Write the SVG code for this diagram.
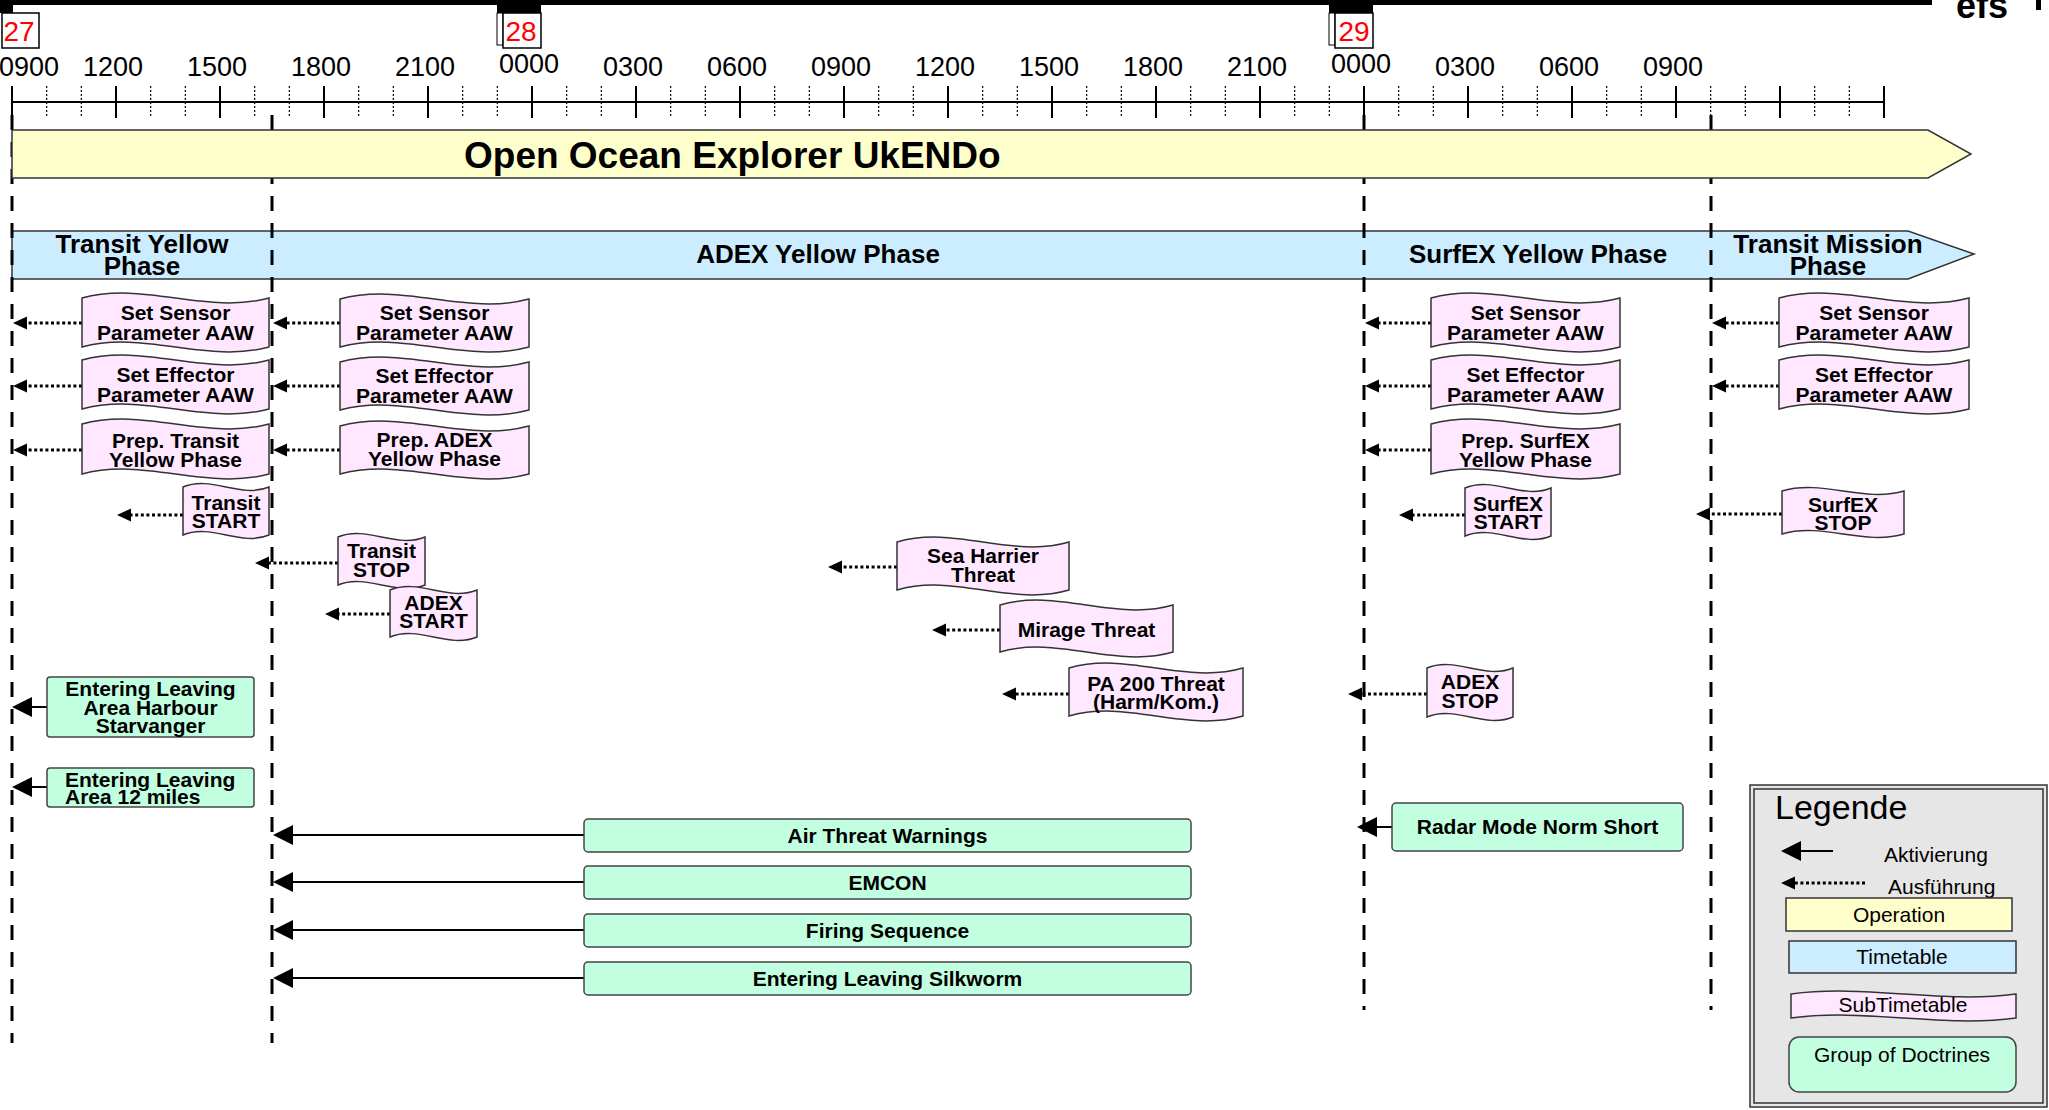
<svg xmlns="http://www.w3.org/2000/svg" width="2049" height="1110" viewBox="0 0 2049 1110">
<style>
text{font-family:"Liberation Sans",Arial,sans-serif;fill:#000}
.ax{font-size:27px;text-anchor:middle}
.day{font-size:28px;fill:#FF0000;text-anchor:middle}
.tt{font-size:26px;font-weight:bold;text-anchor:middle}
.t{font-size:21px;font-weight:bold;text-anchor:middle}
.lg{font-size:21px}
.tape{fill:#FFE8FF;stroke:#333;stroke-width:1.5}
.doc{fill:#C2FFE0;stroke:#444;stroke-width:1.5}
.dash{stroke:#000;stroke-width:3;stroke-dasharray:15 12;fill:none}
.dot{stroke:#000;stroke-width:3;stroke-dasharray:3 2.6;fill:none}
.sol{stroke:#000;stroke-width:2;fill:none}
</style>
<defs>
<marker id="hd" markerUnits="userSpaceOnUse" orient="auto" markerWidth="20" markerHeight="20" refX="0" refY="0" overflow="visible"><path d="M0,-6.5 L14,0 L0,6.5 Z" fill="#000"/></marker>
<marker id="hs" markerUnits="userSpaceOnUse" orient="auto" markerWidth="24" markerHeight="24" refX="0" refY="0" overflow="visible"><path d="M0,-10 L20,0 L0,10 Z" fill="#000"/></marker>
</defs>
<rect width="2049" height="1110" fill="#fff"/>

<g id="header">
<rect x="13" y="0" width="1919" height="5" fill="#000"/>
<rect x="0" y="0" width="13" height="13" fill="#000"/>
<rect x="2" y="13" width="37" height="35" fill="#fff" stroke="#000" stroke-width="1.5"/>
<text class="day" x="19" y="41">27</text>
<rect x="497" y="0" width="44" height="13" fill="#000"/>
<rect x="497" y="13" width="6" height="32" fill="#fff" stroke="#000" stroke-width="1"/>
<rect x="503" y="13" width="38" height="35" fill="#fff" stroke="#000" stroke-width="1.5"/>
<text class="day" x="521" y="41">28</text>
<rect x="1329" y="0" width="44" height="13" fill="#000"/>
<rect x="1329" y="13" width="6" height="32" fill="#fff" stroke="#000" stroke-width="1"/>
<rect x="1335" y="13" width="38" height="35" fill="#fff" stroke="#000" stroke-width="1.5"/>
<text class="day" x="1354" y="41">29</text>
<text x="1956" y="18" style="font-size:36px;font-weight:bold">efs</text>
<rect x="2036" y="0" width="5" height="10" fill="#000"/>
</g>

<g id="axis">
<line x1="12" y1="102" x2="1884" y2="102" stroke="#000" stroke-width="2"/>
<path d="M12,86V118M116,86V118M220,86V118M324,86V118M428,86V118M532,86V118M636,86V118M740,86V118M844,86V118M948,86V118M1052,86V118M1156,86V118M1260,86V118M1364,86V118M1468,86V118M1572,86V118M1676,86V118M1780,86V118M1884,86V118" stroke="#000" stroke-width="2"/>
<path d="M46.67,86V116M81.33,86V116M150.67,86V116M185.33,86V116M254.67,86V116M289.33,86V116M358.67,86V116M393.33,86V116M462.67,86V116M497.33,86V116M566.67,86V116M601.33,86V116M670.67,86V116M705.33,86V116M774.67,86V116M809.33,86V116M878.67,86V116M913.33,86V116M982.67,86V116M1017.33,86V116M1086.67,86V116M1121.33,86V116M1190.67,86V116M1225.33,86V116M1294.67,86V116M1329.33,86V116M1398.67,86V116M1433.33,86V116M1502.67,86V116M1537.33,86V116M1606.67,86V116M1641.33,86V116M1710.67,86V116M1745.33,86V116M1814.67,86V116M1849.33,86V116" stroke="#000" stroke-width="1.2" stroke-dasharray="2 2"/>
<text class="ax" x="59" y="76" style="text-anchor:end">0900</text>
<text class="ax" x="113" y="76">1200</text>
<text class="ax" x="217" y="76">1500</text>
<text class="ax" x="321" y="76">1800</text>
<text class="ax" x="425" y="76">2100</text>
<text class="ax" x="529" y="73">0000</text>
<text class="ax" x="633" y="76">0300</text>
<text class="ax" x="737" y="76">0600</text>
<text class="ax" x="841" y="76">0900</text>
<text class="ax" x="945" y="76">1200</text>
<text class="ax" x="1049" y="76">1500</text>
<text class="ax" x="1153" y="76">1800</text>
<text class="ax" x="1257" y="76">2100</text>
<text class="ax" x="1361" y="73">0000</text>
<text class="ax" x="1465" y="76">0300</text>
<text class="ax" x="1569" y="76">0600</text>
<text class="ax" x="1673" y="76">0900</text>
</g>

<g id="timetable">
<path d="M12,231 H1908 L1974,254 L1908,279 H12 Z" fill="#CCECFF" stroke="#333" stroke-width="1.5"/>
<text class="tt" x="142" y="253">Transit Yellow<tspan x="142" dy="22">Phase</tspan></text>
<text class="tt" x="818" y="263">ADEX Yellow Phase</text>
<text class="tt" x="1538" y="263">SurfEX Yellow Phase</text>
<text class="tt" x="1828" y="253">Transit Mission<tspan x="1828" dy="22">Phase</tspan></text>
</g>

<g id="phase-lines">
<line class="dash" x1="12" y1="115" x2="12" y2="1043"/>
<line class="dash" x1="272" y1="115" x2="272" y2="1043"/>
<line class="dash" x1="1364" y1="115" x2="1364" y2="1010"/>
<line class="dash" x1="1711" y1="115" x2="1711" y2="1010"/>
</g>

<g id="operation">
<path d="M12,130 H1928 L1971,154 L1928,178 H12 Z" fill="#FFFFCC" stroke="#333" stroke-width="1.5"/>
<text x="464" y="168" style="font-size:37px;font-weight:bold">Open Ocean Explorer UkENDo</text>
</g>

<g id="connectors">
<line class="dot" x1="82" y1="323" x2="27" y2="323" marker-end="url(#hd)"/>
<line class="dot" x1="82" y1="386" x2="27" y2="386" marker-end="url(#hd)"/>
<line class="dot" x1="82" y1="450" x2="27" y2="450" marker-end="url(#hd)"/>
<line class="dot" x1="183" y1="515" x2="131" y2="515" marker-end="url(#hd)"/>
<line class="dot" x1="340" y1="323" x2="287" y2="323" marker-end="url(#hd)"/>
<line class="dot" x1="340" y1="386" x2="287" y2="386" marker-end="url(#hd)"/>
<line class="dot" x1="340" y1="450" x2="287" y2="450" marker-end="url(#hd)"/>
<line class="dot" x1="338" y1="563" x2="269" y2="563" marker-end="url(#hd)"/>
<line class="dot" x1="390" y1="614" x2="339" y2="614" marker-end="url(#hd)"/>
<line class="dot" x1="897" y1="567" x2="842" y2="567" marker-end="url(#hd)"/>
<line class="dot" x1="1000" y1="630" x2="946" y2="630" marker-end="url(#hd)"/>
<line class="dot" x1="1069" y1="694" x2="1016" y2="694" marker-end="url(#hd)"/>
<line class="dot" x1="1427" y1="694" x2="1362" y2="694" marker-end="url(#hd)"/>
<line class="dot" x1="1431" y1="323" x2="1379" y2="323" marker-end="url(#hd)"/>
<line class="dot" x1="1431" y1="386" x2="1379" y2="386" marker-end="url(#hd)"/>
<line class="dot" x1="1431" y1="450" x2="1379" y2="450" marker-end="url(#hd)"/>
<line class="dot" x1="1465" y1="515" x2="1413" y2="515" marker-end="url(#hd)"/>
<line class="dot" x1="1779" y1="323" x2="1726" y2="323" marker-end="url(#hd)"/>
<line class="dot" x1="1779" y1="386" x2="1726" y2="386" marker-end="url(#hd)"/>
<line class="dot" x1="1782" y1="514" x2="1710" y2="514" marker-end="url(#hd)"/>
<line class="sol" x1="47" y1="707" x2="32" y2="707" marker-end="url(#hs)"/>
<line class="sol" x1="47" y1="787" x2="32" y2="787" marker-end="url(#hs)"/>
<line class="sol" x1="584" y1="835" x2="293" y2="835" marker-end="url(#hs)"/>
<line class="sol" x1="584" y1="882" x2="293" y2="882" marker-end="url(#hs)"/>
<line class="sol" x1="584" y1="930" x2="293" y2="930" marker-end="url(#hs)"/>
<line class="sol" x1="584" y1="978" x2="293" y2="978" marker-end="url(#hs)"/>
<line class="sol" x1="1392" y1="827" x2="1377" y2="827" marker-end="url(#hs)"/>
</g>

<g id="n-sensor-transit"><path class="tape" d="M82,298 C144.3,281 206.7,315 269,298 V347 C206.7,364 144.3,330 82,347 Z"/><text class="t" x="175.5" y="319.5">Set Sensor<tspan x="175.5" dy="20">Parameter AAW</tspan></text></g>
<g id="n-effector-transit"><path class="tape" d="M82,360 C144.3,343 206.7,377 269,360 V409 C206.7,426 144.3,392 82,409 Z"/><text class="t" x="175.5" y="382">Set Effector<tspan x="175.5" dy="20">Parameter AAW</tspan></text></g>
<g id="n-prep-transit"><path class="tape" d="M82,424 C144.3,407 206.7,441 269,424 V474 C206.7,491 144.3,457 82,474 Z"/><text class="t" x="175.5" y="447.5">Prep. Transit<tspan x="175.5" dy="19.5">Yellow Phase</tspan></text></g>
<g id="n-transit-start"><path class="tape" d="M183,487 C211.7,475 240.3,499 269,487 V535 C240.3,547 211.7,523 183,535 Z"/><text class="t" x="226" y="510">Transit<tspan x="226" dy="18">START</tspan></text></g>

<g id="n-sensor-adex"><path class="tape" d="M340,299 C403,282 466,316 529,299 V347 C466,364 403,330 340,347 Z"/><text class="t" x="434.5" y="320">Set Sensor<tspan x="434.5" dy="19.5">Parameter AAW</tspan></text></g>
<g id="n-effector-adex"><path class="tape" d="M340,362 C403,345 466,379 529,362 V410 C466,427 403,393 340,410 Z"/><text class="t" x="434.5" y="382.5">Set Effector<tspan x="434.5" dy="20">Parameter AAW</tspan></text></g>
<g id="n-prep-adex"><path class="tape" d="M340,426 C403,409 466,443 529,426 V474 C466,491 403,457 340,474 Z"/><text class="t" x="434.5" y="446.5">Prep. ADEX<tspan x="434.5" dy="19.5">Yellow Phase</tspan></text></g>
<g id="n-transit-stop"><path class="tape" d="M338,537 C367,525 396,549 425,537 V585 C396,597 367,573 338,585 Z"/><text class="t" x="381.5" y="558">Transit<tspan x="381.5" dy="19">STOP</tspan></text></g>
<g id="n-adex-start"><path class="tape" d="M390,590 C419,578 448,602 477,590 V637 C448,649 419,625 390,637 Z"/><text class="t" x="433.5" y="610">ADEX<tspan x="433.5" dy="18">START</tspan></text></g>

<g id="n-sea-harrier"><path class="tape" d="M897,542 C954.3,525 1011.7,559 1069,542 V590 C1011.7,607 954.3,573 897,590 Z"/><text class="t" x="983" y="563">Sea Harrier<tspan x="983" dy="19">Threat</tspan></text></g>
<g id="n-mirage"><path class="tape" d="M1000,605 C1057.7,588 1115.3,622 1173,605 V652 C1115.3,669 1057.7,635 1000,652 Z"/><text class="t" x="1086.5" y="637">Mirage Threat</text></g>
<g id="n-pa200"><path class="tape" d="M1069,668 C1127,651 1185,685 1243,668 V716 C1185,733 1127,699 1069,716 Z"/><text class="t" x="1156" y="691">PA 200 Threat<tspan x="1156" dy="18">(Harm/Kom.)</tspan></text></g>
<g id="n-adex-stop"><path class="tape" d="M1427,668 C1455.7,656 1484.3,680 1513,668 V717 C1484.3,729 1455.7,705 1427,717 Z"/><text class="t" x="1470" y="689">ADEX<tspan x="1470" dy="19">STOP</tspan></text></g>

<g id="n-sensor-surfex"><path class="tape" d="M1431,298 C1494,281 1557,315 1620,298 V347 C1557,364 1494,330 1431,347 Z"/><text class="t" x="1525.5" y="319.5">Set Sensor<tspan x="1525.5" dy="20">Parameter AAW</tspan></text></g>
<g id="n-effector-surfex"><path class="tape" d="M1431,360 C1494,343 1557,377 1620,360 V409 C1557,426 1494,392 1431,409 Z"/><text class="t" x="1525.5" y="382">Set Effector<tspan x="1525.5" dy="20">Parameter AAW</tspan></text></g>
<g id="n-prep-surfex"><path class="tape" d="M1431,424 C1494,407 1557,441 1620,424 V474 C1557,491 1494,457 1431,474 Z"/><text class="t" x="1525.5" y="447.5">Prep. SurfEX<tspan x="1525.5" dy="19.5">Yellow Phase</tspan></text></g>
<g id="n-surfex-start"><path class="tape" d="M1465,488 C1493.7,476 1522.3,500 1551,488 V536 C1522.3,548 1493.7,524 1465,536 Z"/><text class="t" x="1508" y="511">SurfEX<tspan x="1508" dy="18">START</tspan></text></g>

<g id="n-sensor-mission"><path class="tape" d="M1779,298 C1842.3,281 1905.7,315 1969,298 V347 C1905.7,364 1842.3,330 1779,347 Z"/><text class="t" x="1874" y="319.5">Set Sensor<tspan x="1874" dy="20">Parameter AAW</tspan></text></g>
<g id="n-effector-mission"><path class="tape" d="M1779,360 C1842.3,343 1905.7,377 1969,360 V409 C1905.7,426 1842.3,392 1779,409 Z"/><text class="t" x="1874" y="382">Set Effector<tspan x="1874" dy="20">Parameter AAW</tspan></text></g>
<g id="n-surfex-stop"><path class="tape" d="M1782,491 C1822.7,479 1863.3,503 1904,491 V534 C1863.3,546 1822.7,522 1782,534 Z"/><text class="t" x="1843" y="512">SurfEX<tspan x="1843" dy="18">STOP</tspan></text></g>

<g id="d-harbour"><rect class="doc" x="47" y="677" width="207" height="60" rx="3"/><text class="t" x="150.5" y="696">Entering Leaving<tspan x="150.5" dy="18.5">Area Harbour</tspan><tspan x="150.5" dy="18.5">Starvanger</tspan></text></g>
<g id="d-12miles"><rect class="doc" x="47" y="768" width="207" height="39" rx="3"/><text class="t" x="65" y="787" style="text-anchor:start">Entering Leaving<tspan x="65" dy="16.5">Area 12 miles</tspan></text></g>
<g id="d-air-threat"><rect class="doc" x="584" y="819" width="607" height="33" rx="4"/><text class="t" x="887.5" y="843">Air Threat Warnings</text></g>
<g id="d-emcon"><rect class="doc" x="584" y="866" width="607" height="33" rx="4"/><text class="t" x="887.5" y="890">EMCON</text></g>
<g id="d-firing"><rect class="doc" x="584" y="914" width="607" height="33" rx="4"/><text class="t" x="887.5" y="938">Firing Sequence</text></g>
<g id="d-silkworm"><rect class="doc" x="584" y="962" width="607" height="33" rx="4"/><text class="t" x="887.5" y="986">Entering Leaving Silkworm</text></g>
<g id="d-radar"><rect class="doc" x="1392" y="803" width="291" height="48" rx="4"/><text class="t" x="1537.5" y="834">Radar Mode Norm Short</text></g>

<g id="legend">
<rect x="1750" y="785" width="297" height="322" fill="#E6E6E6" stroke="#333" stroke-width="1.5"/>
<rect x="1754" y="789" width="289" height="314" fill="none" stroke="#333" stroke-width="1.5"/>
<text x="1775" y="819" style="font-size:34px">Legende</text>
<line class="sol" x1="1833" y1="851" x2="1801" y2="851" marker-end="url(#hs)"/>
<text class="lg" x="1884" y="862">Aktivierung</text>
<line class="dot" x1="1865" y1="883" x2="1795" y2="883" marker-end="url(#hd)"/>
<text class="lg" x="1888" y="894">Ausführung</text>
<rect x="1786" y="898" width="226" height="33" fill="#FFFFCC" stroke="#333" stroke-width="1.5"/>
<text class="lg" x="1899" y="922" style="text-anchor:middle">Operation</text>
<rect x="1789" y="941" width="227" height="32" fill="#CCECFF" stroke="#333" stroke-width="1.5"/>
<text class="lg" x="1902" y="964" style="text-anchor:middle">Timetable</text>
<path class="tape" d="M1791,994 C1866,984 1941,1004 2016,994 V1018 C1941,1028 1866,1008 1791,1018 Z"/>
<text class="lg" x="1903" y="1012" style="text-anchor:middle">SubTimetable</text>
<rect class="doc" x="1789" y="1037" width="227" height="55" rx="10"/>
<text class="lg" x="1902" y="1062" style="text-anchor:middle">Group of Doctrines</text>
</g>
</svg>
